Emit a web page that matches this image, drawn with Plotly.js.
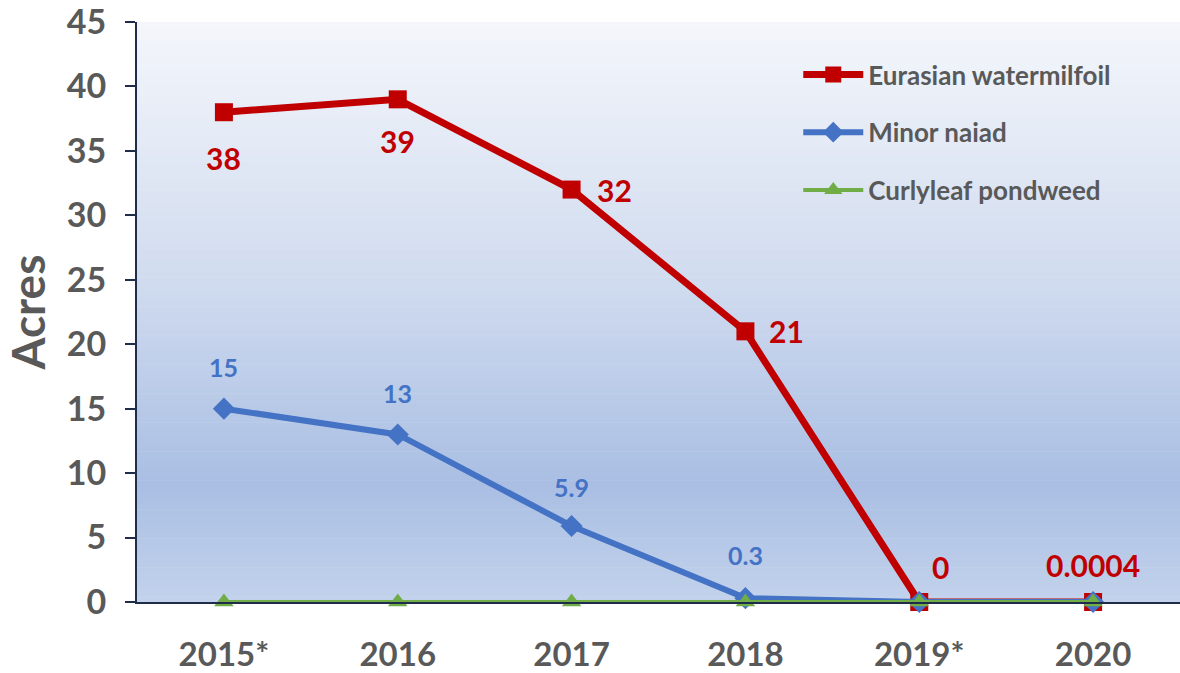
<!DOCTYPE html>
<html>
<head>
<meta charset="utf-8">
<script src="https://cdn.plot.ly/plotly-3.0.1.min.js"></script>
<style>html,body{margin:0;padding:0;background:#fff;}#chart{width:1180px;height:673px;}</style>
</head>
<body>
<div id="chart"></div>
<script>
// ---- data ----
const years = ["2015*", "2016", "2017", "2018", "2019*", "2020"];
const seriesNames = ["Eurasian watermilfoil", "Minor naiad", "Curlyleaf pondweed"];
const watermilfoil = [38, 39, 32, 21, 0, 0.0004];
const watermilfoilLabels = ["38", "39", "32", "21", "0", "0.0004"];
const minorNaiad = [15, 13, 5.9, 0.3, 0, 0];
const minorNaiadLabels = ["15", "13", "5.9", "0.3", null, null];
const curlyleaf = [0, 0, 0, 0, 0, 0];
const yTicks = [0, 5, 10, 15, 20, 25, 30, 35, 40, 45];

// ---- styles ----
const FONT = "Lato, 'Open Sans', sans-serif";
const RED = "#C00000", BLUE = "#4472C4", GREEN = "#70AD47", GRAY = "#595959", NAVY = "#1F2D4A";
// label offsets in pixels: [xshift, yshift] (yshift positive = up)
const redOffsets = [[0, -46], [0, -42], [43, 0], [41, 0], [21, 35], [0, 37]];
const blueOffsets = [[0, 42], [0, 41], [0, 39], [0, 43], [0, 0], [0, 0]];

const traces = [
  {x: years, y: watermilfoil, name: seriesNames[0], type: "scatter", mode: "lines+markers",
   line: {color: RED, width: 7}, marker: {symbol: "square", size: 18, color: RED},
   cliponaxis: false, legendgroup: "a", hoverinfo: "x+y"},
  {x: years, y: minorNaiad, name: seriesNames[1], type: "scatter", mode: "lines+markers",
   line: {color: BLUE, width: 6}, marker: {symbol: "diamond", size: 17, color: BLUE},
   cliponaxis: false, legendgroup: "b", hoverinfo: "x+y"},
  {x: years, y: curlyleaf, name: seriesNames[2], type: "scatter", mode: "lines+markers",
   line: {color: GREEN, width: 4}, marker: {symbol: "triangle-up", size: 17, color: GREEN},
   cliponaxis: false, legendgroup: "c", hoverinfo: "x+y"}
];

const annotations = [];
years.forEach((yr, i) => {
  annotations.push({x: i, y: watermilfoil[i], xref: "x", yref: "y", text: watermilfoilLabels[i],
    showarrow: false, xshift: redOffsets[i][0], yshift: redOffsets[i][1],
    font: {family: FONT, size: 30, color: RED, weight: "bold"}});
  if (minorNaiadLabels[i] !== null) {
    annotations.push({x: i, y: minorNaiad[i], xref: "x", yref: "y", text: minorNaiadLabels[i],
      showarrow: false, xshift: blueOffsets[i][0], yshift: blueOffsets[i][1],
      font: {family: FONT, size: 25, color: BLUE, weight: "bold"}});
  }
});

// gradient background strips
function hex2rgb(h){return [parseInt(h.slice(1,3),16),parseInt(h.slice(3,5),16),parseInt(h.slice(5,7),16)];}
const stops = [[0, "#F4F6FB"], [0.45, "#D0DBEF"], [0.8, "#A9BEE3"], [1, "#C3D2EC"]];
function colorAt(t){
  for (let k = 0; k < stops.length - 1; k++) {
    const [t0, c0] = stops[k], [t1, c1] = stops[k + 1];
    if (t >= t0 && t <= t1) {
      const f = (t - t0) / (t1 - t0), a = hex2rgb(c0), b = hex2rgb(c1);
      return "rgb(" + a.map((v, j) => Math.round(v + (b[j] - v) * f)).join(",") + ")";
    }
  }
  return stops[stops.length - 1][1];
}
const shapes = [];
const N = 100;
for (let k = 0; k < N; k++) {
  const top = 1 - k / N, bot = 1 - (k + 1) / N;
  shapes.push({type: "rect", xref: "paper", yref: "paper", x0: 0, x1: 1, y0: bot - 0.001, y1: top,
    fillcolor: colorAt((k + 0.5) / N), line: {width: 0}, layer: "below"});
}

const layout = {
  width: 1180, height: 673,
  margin: {l: 137, r: 0, t: 22, b: 71},
  paper_bgcolor: "#FFFFFF", plot_bgcolor: "#FFFFFF",
  showlegend: true,
  legend: {x: 0.634, y: 0.95, xanchor: "left", yanchor: "top", bgcolor: "rgba(0,0,0,0)",
    font: {family: FONT, size: 26, color: GRAY, weight: "bold"}, tracegroupgap: 21, itemwidth: 60},
  xaxis: {type: "category", range: [-0.5, 5.5], showline: true, linecolor: NAVY, linewidth: 2,
    ticks: "", showgrid: false, zeroline: false, ticklabeloverflow: "allow",
    tickfont: {family: FONT, size: 33, color: GRAY, weight: "bold"}, ticklabelstandoff: 22},
  yaxis: {range: [0, 45], tickvals: yTicks, ticktext: yTicks.map(String), showline: true, linecolor: NAVY,
    linewidth: 2, ticks: "outside", ticklen: 10, tickwidth: 2, tickcolor: NAVY, showgrid: false, zeroline: false,
    ticklabeloverflow: "allow",
    tickfont: {family: FONT, size: 34, color: GRAY, weight: "bold"}, ticklabelstandoff: 12,
    title: {text: "Acres", font: {family: FONT, size: 46, color: GRAY, weight: "bold"}, standoff: 10}},
  annotations: annotations,
  shapes: shapes
};

Plotly.newPlot("chart", traces, layout, {displayModeBar: false, staticPlot: true});
</script>
</body>
</html>
